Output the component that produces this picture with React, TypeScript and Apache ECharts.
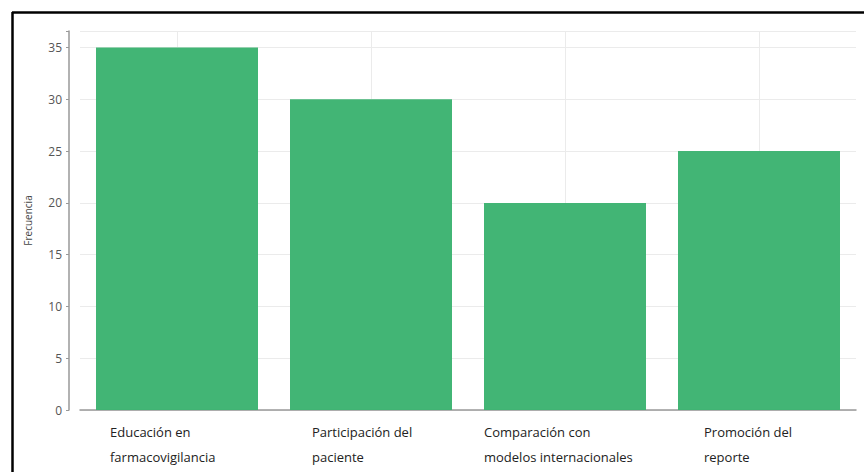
import React, { useEffect, useRef } from "react";
import * as echarts from "echarts";

const categories = [
  "Educación en\nfarmacovigilancia",
  "Participación del\npaciente",
  "Comparación con\nmodelos internacionales",
  "Promoción del\nreporte",
];
const values = [35, 30, 20, 25];
const yTicks = [0, 5, 10, 15, 20, 25, 30, 35];

export default function App() {
  const ref = useRef<HTMLDivElement>(null);
  useEffect(() => {
    const chart = echarts.init(ref.current!, null, { renderer: "svg" });
    const labelWidths = [134, 118, 162, 110];
    const rich: any = {};
    labelWidths.forEach((w, i) => {
      rich["c" + i] = {
        width: w,
        align: "left",
        fontSize: 13,
        lineHeight: 25,
        color: "#222",
        fontFamily: "Open Sans",
      };
    });
    chart.setOption({
      animation: false,
      backgroundColor: "#fff",
      graphic: [
        { type: "line", shape: { x1: 12, y1: 12.5, x2: 864, y2: 12.5 }, style: { stroke: "#000", lineWidth: 2.5 } },
        { type: "line", shape: { x1: 12.5, y1: 12, x2: 12.5, y2: 472 }, style: { stroke: "#000", lineWidth: 2.5 } },
      ],
      grid: { left: 80, right: 8, top: 31, bottom: 62, containLabel: false },
      xAxis: [
        {
          type: "category",
          data: categories,
          axisLine: { show: true, lineStyle: { color: "#999", width: 1.5 } },
          axisTick: { show: false },
          splitLine: { show: false },
          axisLabel: {
            margin: 9,
            interval: 0,
            formatter: (v: string) => {
              const i = categories.indexOf(v);
              return v
                .split("\n")
                .map((s) => `{c${i}|${s}}`)
                .join("\n");
            },
            rich,
          },
        },
        {
          type: "category",
          position: "bottom",
          boundaryGap: false,
          data: ["a", "b", "c", "d", "e", "f", "g", "h", "i"],
          axisLine: { show: false },
          axisTick: { show: false },
          axisLabel: { show: false },
          splitLine: {
            show: true,
            interval: (idx: number) => idx % 2 === 1,
            lineStyle: { color: "#ebebeb", width: 1 },
          },
        },
      ],
      yAxis: {
        type: "value",
        min: 0,
        max: 36.6,
        interval: 5,
        offset: 11,
        name: "Frecuencia",
        nameLocation: "middle",
        nameGap: 36,
        nameTextStyle: { fontSize: 10, color: "#444", fontFamily: "Open Sans" },
        axisLine: { show: true, lineStyle: { color: "#999", width: 1.5 } },
        axisTick: { show: true, length: 3, lineStyle: { color: "#999" } },
        axisLabel: {
          fontSize: 12,
          color: "#555",
          margin: 7,
          fontFamily: "Open Sans",
          formatter: (v: number) => (yTicks.includes(v) ? String(v) : ""),
        },
        splitLine: { show: true, lineStyle: { color: "#ebebeb", width: 1 } },
      },
      series: [
        {
          type: "bar",
          data: values,
          barWidth: 162,
          itemStyle: { color: "#3cb371", opacity: 0.97 },
          z: 2,
        },
      ],
    });
    return () => chart.dispose();
  }, []);
  return (
    <div
      ref={ref}
      style={{ position: "fixed", left: 0, top: 0, width: 864, height: 472 }}
    />
  );
}
